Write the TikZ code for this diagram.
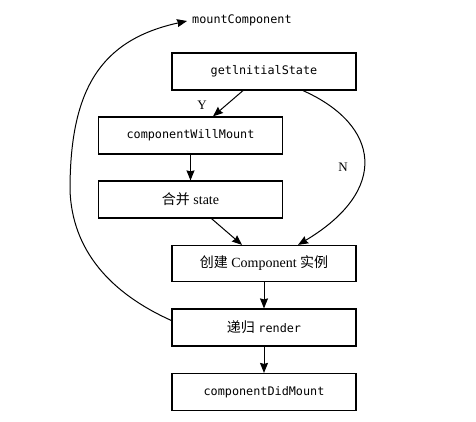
\documentclass[tikz,border=0pt]{standalone}
\usepackage{fontspec}
\setmainfont{Liberation Serif}
\setmonofont{DejaVu Sans Mono}
\newfontfamily\cjk{Noto Sans CJK SC}
\usetikzlibrary{arrows.meta}
\tikzset{
  box/.style={draw, line width=1.2pt, minimum width=184pt, minimum height=37pt, inner sep=0pt, font=\fontsize{14}{16}\selectfont},
  codebox/.style={box, font=\fontsize{11.8}{14}\ttfamily},
  arr/.style={line width=1pt, -{Stealth[length=10pt,width=8pt,inset=1pt]}},
  lab/.style={font=\fontsize{13}{15}\selectfont, inner sep=0pt}
}
\begin{document}
\begin{tikzpicture}[x=1pt,y=-1pt]
\useasboundingbox (0,0) rectangle (476,422);
\node[codebox] (gis) at (264,71.5) {getlnitialState};
\node[codebox] (cwm) at (190.5,135.5) {componentWillMount};
\node[box] (merge) at (190.5,199.5) {{\cjk 合并} state};
\node[box, minimum height=36pt] (create) at (264,263.5) {{\cjk 创建} Component {\cjk 实例}};
\node[box] (render) at (264,327.5) {{\cjk 递归} {\fontsize{11.8}{14}\ttfamily render}};
\node[codebox] (cdm) at (264,392) {componentDidMount};
\node[anchor=west, inner sep=0pt, font=\fontsize{11.8}{14}\ttfamily] (mc) at (192,20) {mountComponent};
\coordinate (mctip) at (187,21);
\coordinate (loopmid) at (70,190);
\node[lab] (Y) at (202,105) {Y};
\node[lab] (N) at (343,167) {N};

\draw[arr] ([xshift=-21pt]gis.south) -- ([xshift=22.5pt]cwm.north);
\draw[arr] (cwm.south) -- (merge.south |- merge.north);
\draw[arr] ([xshift=21pt]merge.south) -- ([xshift=-22pt]create.north);
\draw[arr] ([xshift=39pt]gis.south) .. controls (380,125) and (390,190) .. ([xshift=34pt]create.north);
\draw[arr] (create.south) -- (render.north);
\draw[arr] (render.south) -- (cdm.north);
\draw[arr] ([yshift=7pt]render.west) .. controls (110,293) and (72,250) .. (loopmid)
  .. controls (70,90) and (100,40) .. (mctip);
\end{tikzpicture}
\end{document}
